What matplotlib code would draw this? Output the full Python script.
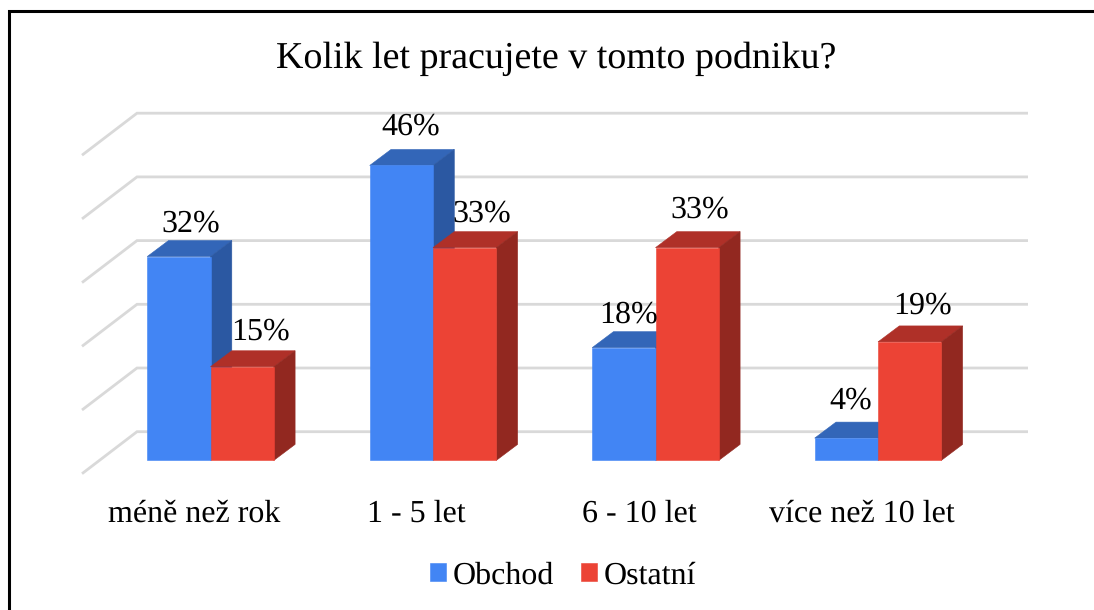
import matplotlib
matplotlib.use('Agg')
import matplotlib.pyplot as plt
from matplotlib.lines import Line2D
from matplotlib.patches import Polygon

categories = ['méně než rok', '1 - 5 let', '6 - 10 let', 'více než 10 let']
obchod = [32.0, 46.3, 17.7, 3.5]
ostatni = [14.7, 33.4, 33.4, 18.6]
grid_values = [0, 10, 20, 30, 40, 50]

# pixels of the picture -> data units
W, H = 1094, 610
X0, PX_CAT = 210.5, 222.5
Y0, PX_PCT = 460.4, 6.37
BAR_W = 63.3 / PX_CAT
DX, DY = 21.3 / PX_CAT, 16 / PX_PCT

BLUE = ('#4285F4', '#3366B8', '#2B58A2')
RED = ('#EC4335', '#AF3028', '#922820')

plt.rcParams['font.family'] = ['Liberation Serif', 'DejaVu Serif']
plt.rcParams['text.hinting'] = 'no_hinting'
plt.rcParams['text.hinting_factor'] = 1

fig = plt.figure(figsize=(W / 100, H / 100), dpi=100)
ax = fig.add_axes([0, 0, 1, 1])
ax.set_xlim(-X0 / PX_CAT, (W - X0) / PX_CAT)
ax.set_ylim(-(H - Y0) / PX_PCT, Y0 / PX_PCT)
ax.axis('off')

# frame of the slide, only top and left are in the crop
fig.add_artist(Line2D([9 / W, 9 / W, 1.01], [-0.01, 1 - 11 / H, 1 - 11 / H], transform=fig.transFigure,
                      color='black', lw=2.2, solid_joinstyle='miter'))

# back wall and side wall gridlines
gx_front, gx_back, gx_end = -128.5 / PX_CAT, -73.5 / PX_CAT, 817.5 / PX_CAT
for v in grid_values:
    ax.plot([gx_front, gx_back, gx_end], [v - 13.3 / PX_PCT, v + 28.7 / PX_PCT, v + 28.7 / PX_PCT],
            color='#d9d9d9', lw=2, solid_joinstyle='miter', solid_capstyle='butt', zorder=1)


def draw_bars(x, values, colors, label, z):
    ax.bar(x, values, BAR_W, color=colors[0], label=label, zorder=z + 1,
           edgecolor=colors[0], linewidth=0.4)
    for xi, v in zip(x, values):
        l, r = xi - BAR_W / 2, xi + BAR_W / 2
        ax.add_patch(Polygon([(l, v), (r, v), (r + DX, v + DY), (l + DX, v + DY)],
                             fc=colors[1], ec=colors[1], lw=0.4, zorder=z))
        ax.add_patch(Polygon([(r, 0), (r + DX, DY), (r + DX, v + DY), (r, v)],
                             fc=colors[2], ec=colors[2], lw=0.4, zorder=z))


pos = list(range(len(categories)))
draw_bars([p - BAR_W / 2 for p in pos], obchod, BLUE, 'Obchod', 2)
draw_bars([p + BAR_W / 2 for p in pos], ostatni, RED, 'Ostatní', 4)

# data labels, nudged by hand like in the original (pixels)
nudge_blue = [(1, 9), (-1, 15), (-6, 9), (-6, 14)]
nudge_red = [(8, 11), (6, 10), (2, 14), (2, 12)]
for p, v, n in zip(pos, obchod, nudge_blue):
    ax.text(p - BAR_W / 2 + DX / 2 + n[0] / PX_CAT, v + DY + n[1] / PX_PCT, f'{v:.0f}%',
            ha='center', va='baseline', fontsize=23, color='black', zorder=10)
for p, v, n in zip(pos, ostatni, nudge_red):
    ax.text(p + BAR_W / 2 + DX / 2 + n[0] / PX_CAT, v + DY + n[1] / PX_PCT, f'{v:.0f}%',
            ha='center', va='baseline', fontsize=23, color='black', zorder=10)

# category labels
for p, c in zip(pos, categories):
    ax.text(p - 16.5 / PX_CAT, (Y0 - 522) / PX_PCT, c, ha='center', va='baseline', fontsize=23)

ax.text((556.5 - X0) / PX_CAT, (Y0 - 68) / PX_PCT, 'Kolik let pracujete v tomto podniku?',
        ha='center', va='baseline', fontsize=27.7)

ax.legend(loc='center', bbox_to_anchor=(563 / W, 1 - 576 / H), ncol=2, frameon=False, fontsize=23,
          handlelength=0.5, handleheight=0.5, handletextpad=0.22, columnspacing=0.85,
          borderpad=0, labelspacing=0)

fig.savefig('out.png', dpi=100)
